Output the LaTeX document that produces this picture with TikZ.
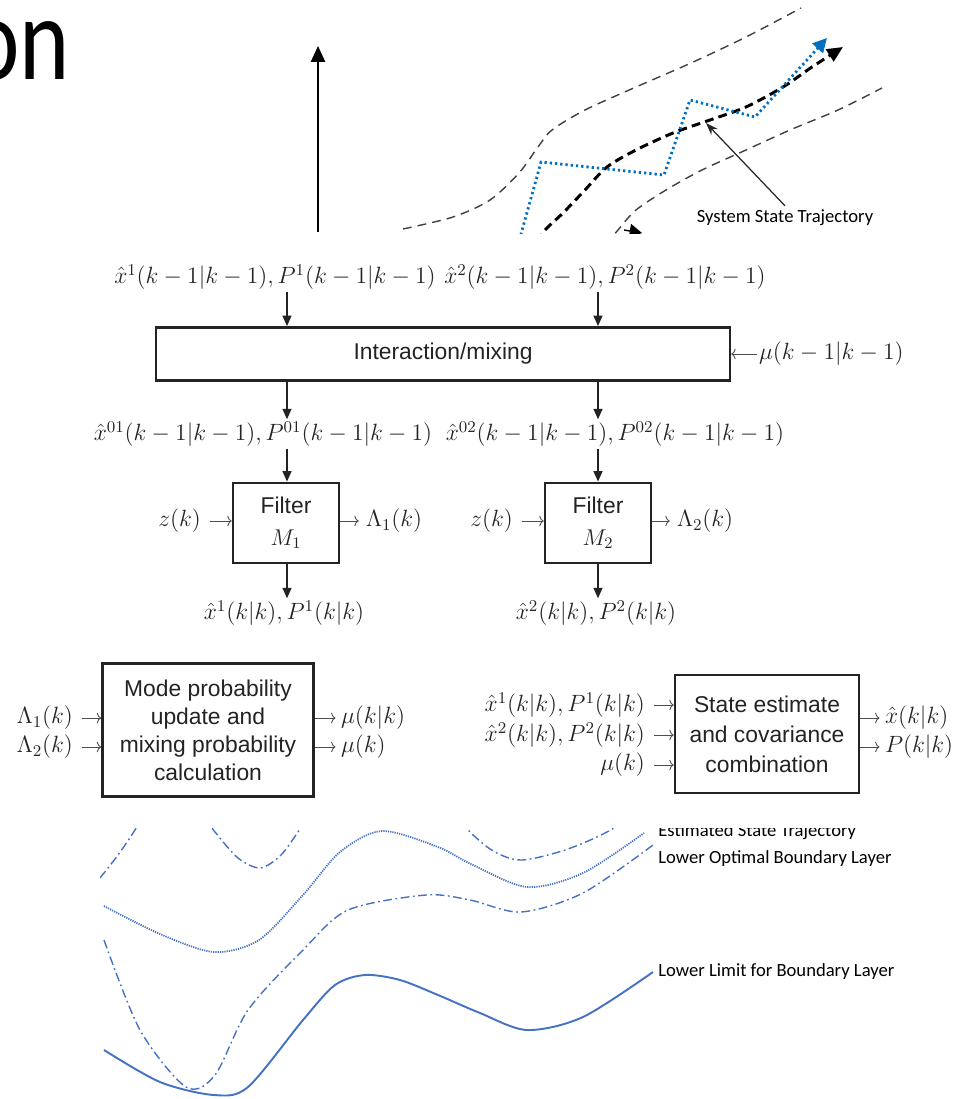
\RequirePackage{fix-cm}
\documentclass[tikz,border=0pt]{standalone}
\usepackage{fontspec}
\setmainfont{Liberation Sans}
\newfontfamily\calfont{Carlito}
\usetikzlibrary{arrows.meta}
\definecolor{curveblue}{RGB}{68,114,196}
\definecolor{trajblue}{RGB}{0,112,192}
\definecolor{ink}{RGB}{35,35,35}

\begin{document}
\begin{tikzpicture}[x=0.02cm, y=-0.02cm,
    lbl/.style = {font=\fontsize{13.4}{16}\selectfont, text=ink, inner sep=1pt},
    blk/.style = {draw=ink, line width=1.5pt, font=\fontsize{13}{16}\selectfont, text=ink, align=center, inner sep=0pt},
    bigarr/.style = {-{Triangle[length=6pt,width=5pt]}, line width=1.1pt, ink},
    sarr/.style = {-{To[length=2.5pt,width=6pt]}, line width=0.5pt, black!70},
    bound/.style = {black!75, line width=0.8pt, dash pattern=on 5pt off 3.5pt},
    note/.style = {font=\calfont\fontsize{10.6}{12}\selectfont, inner sep=0pt}]
    \path[use as bounding box, clip] (0,0) rectangle (955,1099);

    \node[font=\calfont\fontsize{68}{70}\selectfont, anchor=base east, inner sep=0pt] (ttl) at (70,79) {\scalebox{0.8}[1]{on}};

    \coordinate (ax0) at (318,232);
    \coordinate (ax1) at (318,46);
    \draw [-{Triangle[length=9pt,width=8pt]}, line width=1.1pt] (ax0) -- (ax1);

    \begin{scope}
        \clip (380,0) rectangle (955,233);
        \draw [bound] plot[smooth] coordinates {(403,229) (453,217) (490,200) (519,173) (538,147) (552,130) (585,110) (636,87) (691,63) (746,37) (801,8)};
        \draw [bound] plot[smooth] coordinates {(606,245) (618,230) (636,210) (666,190) (702,170) (746,150) (790,130) (838,110) (882,88)};
        \draw [-{Triangle[length=9pt,width=8pt]}, line width=1.7pt, dash pattern=on 5pt off 3pt] plot[smooth] coordinates {(538,242) (545,230) (563,213) (585,190) (607,167) (636,150) (673,133) (710,120) (746,107) (783,87) (812,67) (843,47)};
        \draw [-{Triangle[length=8pt,width=8pt]}, trajblue, line width=1.6pt, dash pattern=on 1.3pt off 1.7pt] (518,245) -- (541,162) -- (664,175) -- (690,100) -- (755,117) -- (827,38);
        \coordinate (pa0) at (624,230);
        \coordinate (pa1) at (642,233);
        \draw [-{Triangle[length=7pt,width=8pt]}, line width=0.8pt] (pa0) -- (pa1);
    \end{scope}
    \coordinate (tp) at (706,123);
    \node[note, anchor=base] (sst) at (785,222) {System State Trajectory};
    \draw [-{Stealth[length=7pt,width=5pt]}, line width=0.7pt, black!85] (sst.north) ++(0,-3) -- (tp);

    \coordinate (c1) at (287,0);
    \coordinate (c2) at (598,0);
    \node[lbl] (in1) at (275,277) {$\hat{x}^1(k-1|k-1), P^1(k-1|k-1)$};
    \node[lbl] (in2) at (605,277) {$\hat{x}^2(k-1|k-1), P^2(k-1|k-1)$};
    \node[blk, minimum width=11.48cm, minimum height=1.06cm] (mix) at (443,354) {Interaction/mixing};
    \node[lbl, anchor=west] (mu0) at (757,354) {$\mu(k-1|k-1)$};
    \draw [bigarr] (in1.south -| c1) -- (mix.north -| c1);
    \draw [bigarr] (in2.south -| c2) -- (mix.north -| c2);
    \draw [sarr] (mu0.west) -- (mix.east |- mu0.west);

    \node[lbl] (mid1) at (263,434) {$\hat{x}^{01}(k-1|k-1), P^{01}(k-1|k-1)$};
    \node[lbl] (mid2) at (615,434) {$\hat{x}^{02}(k-1|k-1), P^{02}(k-1|k-1)$};
    \draw [bigarr] (mix.south -| c1) -- (mid1.north -| c1);
    \draw [bigarr] (mix.south -| c2) -- (mid2.north -| c2);

    \node[blk, minimum width=2.12cm, minimum height=1.6cm] (f1) at (286,523) {Filter\\[2pt] $M_1$};
    \node[blk, minimum width=2.12cm, minimum height=1.6cm] (f2) at (598,523) {Filter\\[2pt] $M_2$};
    \draw [bigarr] (mid1.south -| c1) -- (f1.north -| c1);
    \draw [bigarr] (mid2.south -| c2) -- (f2.north -| c2);

    \node[lbl, anchor=east] (z1) at (203,521) {$z(k)$};
    \node[lbl, anchor=west] (lam1) at (364,521) {$\Lambda_1(k)$};
    \node[lbl, anchor=east] (z2) at (515,521) {$z(k)$};
    \node[lbl, anchor=west] (lam2) at (675,521) {$\Lambda_2(k)$};
    \draw [sarr, shorten <=4pt] (z1.east) -- (z1.east -| f1.west);
    \draw [sarr, shorten >=3pt] (f1.east |- lam1.west) -- (lam1.west);
    \draw [sarr, shorten <=4pt] (z2.east) -- (z2.east -| f2.west);
    \draw [sarr, shorten >=3pt] (f2.east |- lam2.west) -- (lam2.west);

    \node[lbl] (out1) at (284,613) {$\hat{x}^1(k|k), P^1(k|k)$};
    \node[lbl] (out2) at (596,613) {$\hat{x}^2(k|k), P^2(k|k)$};
    \draw [bigarr] (f1.south -| c1) -- (out1.north -| c1);
    \draw [bigarr] (f2.south -| c2) -- (out2.north -| c2);

    \node[blk, minimum width=4.22cm, minimum height=2.66cm, font=\fontsize{13}{15.9}\selectfont] (mode) at (208,730) {Mode probability\\ update and\\ mixing probability\\ calculation};
    \node[lbl, anchor=east] (la1) at (75,718) {$\Lambda_1(k)$};
    \node[lbl, anchor=east] (la2) at (75,747) {$\Lambda_2(k)$};
    \node[lbl, anchor=west] (muk) at (339,718) {$\mu(k|k)$};
    \node[lbl, anchor=west] (mu1) at (339,747) {$\mu(k)$};
    \draw [sarr, shorten <=4pt] (la1.east) -- (la1.east -| mode.west);
    \draw [sarr, shorten <=4pt] (la2.east) -- (la2.east -| mode.west);
    \draw [sarr, shorten >=2pt] (mode.east |- muk.west) -- (muk.west);
    \draw [sarr, shorten >=2pt] (mode.east |- mu1.west) -- (mu1.west);

    \node[blk, minimum width=3.68cm, minimum height=2.36cm, font=\fontsize{13}{17}\selectfont] (comb) at (767,734) {State estimate\\ and covariance\\ combination};
    \node[lbl, anchor=east] (e1) at (647,705) {$\hat{x}^1(k|k), P^1(k|k)$};
    \node[lbl, anchor=east] (e2) at (647,735) {$\hat{x}^2(k|k), P^2(k|k)$};
    \node[lbl, anchor=east] (mu2) at (647,765) {$\mu(k)$};
    \node[lbl, anchor=west] (xh) at (883,718) {$\hat{x}(k|k)$};
    \node[lbl, anchor=west] (pk) at (883,747) {$P(k|k)$};
    \draw [sarr, shorten <=4pt] (e1.east) -- (e1.east -| comb.west);
    \draw [sarr, shorten <=4pt] (e2.east) -- (e2.east -| comb.west);
    \draw [sarr, shorten <=4pt] (mu2.east) -- (mu2.east -| comb.west);
    \draw [sarr, shorten >=2pt] (comb.east |- xh.west) -- (xh.west);
    \draw [sarr, shorten >=2pt] (comb.east |- pk.west) -- (pk.west);

    \begin{scope}
        \clip (100,828) rectangle (955,1099);
        \draw [curveblue, line width=0.8pt, dash pattern=on 5pt off 2pt on 1pt off 2pt] plot[smooth] coordinates {(100,878) (118,855) (135,830) (160,790) (190,800) (215,832) (238,858) (260,868) (280,856) (298,832) (340,770) (420,780) (470,832) (495,852) (522,860) (565,850) (607,832) (650,805)};
        \draw [curveblue, line width=1pt, dash pattern=on 0.7pt off 0.6pt] plot[smooth] coordinates {(104,906) (160,934) (214,952) (259,940) (303,895) (340,852) (382,831) (438,847) (471,864) (527,887) (583,873) (644,833)};
        \draw [curveblue, line width=0.8pt, dash pattern=on 5pt off 2pt on 1pt off 2pt] plot[smooth] coordinates {(104,940) (140,1030) (186,1087) (215,1075) (248,1010) (303,950) (348,910) (426,895) (470,900) (521,912) (583,893) (653,845)};
        \draw [curveblue, line width=1.1pt] plot[smooth] coordinates {(104,1050) (160,1082) (214,1095) (248,1087) (303,1020) (335,985) (365,975) (400,980) (438,995) (480,1013) (527,1030) (583,1017) (653,972)};
        \node[note, anchor=base west] (est) at (658,836) {Estimated State Trajectory};
        \node[note, anchor=base west] (opt) at (658,863) {Lower Optimal Boundary Layer};
        \node[note, anchor=base west] (lim) at (658,976) {Lower Limit for Boundary Layer};
    \end{scope}
\end{tikzpicture}
\end{document}
